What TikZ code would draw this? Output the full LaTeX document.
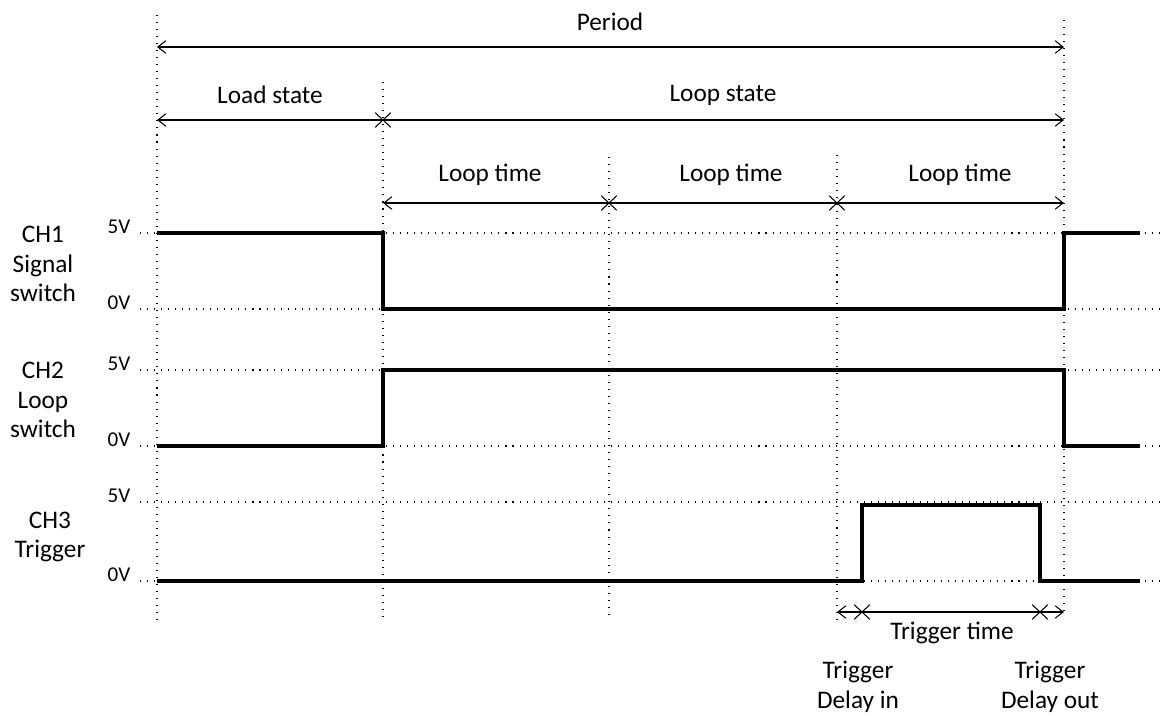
\documentclass[tikz,border=0pt]{standalone}
\usepackage{fontspec}
\setmainfont{Carlito}
\usetikzlibrary{arrows.meta,positioning,shapes.misc}

\begin{document}
\begin{tikzpicture}[x=0.02cm, y=-0.02cm, font=\fontsize{14.4}{17}\selectfont,
  >={Straight Barb[length=1.6mm,width=2.5mm]},
  grid/.style={line width=0.6pt, dash pattern=on 0.6pt off 3.4pt},
  span/.style={line width=0.6pt},
  cross/.style={draw, cross out, minimum width=2.9mm, minimum height=2.7mm, inner sep=0pt, line width=0.6pt},
  wave/.style={line width=1.8pt},
  volt/.style={font=\fontsize{12}{14}\selectfont},
  chan/.style={align=center}]
\useasboundingbox (0,0) rectangle (1164,716);

% dotted time markers
\draw[grid] (157,15) -- (157,620);
\draw[grid] (383,82) -- (383,620);
\draw[grid] (609,157) -- (609,620);
\draw[grid] (837,155) -- (837,625);
\draw[grid] (1064,20) -- (1064,615);

% dotted voltage levels
\foreach \lev in {233,309,370,446,502,581}
  \draw[grid] (140,\lev) -- (1162,\lev);

% channel names
\node[chan] (ch1) at (43,264) {CH1\\Signal\\switch};
\node[chan] (ch2) at (43,400) {CH2\\Loop\\switch};
\node[chan] (ch3) at (50,537) {CH3\\Trigger};

% voltage labels
\foreach \hi/\lo [count=\i] in {233/309,370/446,502/581} {
  \node[volt] (hi\i) at (119,\hi-6) {5V};
  \node[volt] (lo\i) at (119,\lo-6) {0V};
}

% waveforms
\draw[wave] (157,233) -- (383,233) -- (383,309) -- (1064,309) -- (1064,233) -- (1140,233);
\draw[wave] (157,446) -- (383,446) -- (383,370) -- (1064,370) -- (1064,446) -- (1140,446);
\draw[wave] (157,581) -- (862,581) -- (862,505) -- (1040,505) -- (1040,581) -- (1140,581);

% period
\coordinate (per0) at (157,47);
\coordinate (per1) at (1064,47);
\draw[span, <->] (per0) -- (per1);
\node (period) at (610,22) {Period};

% load / loop state
\coordinate (st0) at (157,120);
\node[cross] (stx) at (383,120) {};
\coordinate (st1) at (1064,120);
\draw[span, <-] (st0) -- (stx.center);
\draw[span, ->] (stx.center) -- (st1);
\node (load) at (270,95) {Load state};
\node (loop) at (723,95) {Loop state};

% loop times
\coordinate (lt0) at (383,203);
\node[cross] (ltx1) at (609,203) {};
\node[cross] (ltx2) at (837,203) {};
\coordinate (lt1) at (1064,203);
\draw[span, <-] (lt0) -- (ltx1.center);
\draw[span] (ltx1.center) -- (ltx2.center);
\draw[span, ->] (ltx2.center) -- (lt1);
\foreach \xpos/\nm in {490/lta,731/ltb,960/ltc}
  \node (\nm) at (\xpos,175) {Loop time};

% trigger time
\coordinate (tr0) at (837,612);
\node[cross] (trx1) at (862,612) {};
\node[cross] (trx2) at (1040,612) {};
\coordinate (tr1) at (1064,612);
\draw[span, <-] (tr0) -- (trx1.center);
\draw[span] (trx1.center) -- (trx2.center);
\draw[span, ->] (trx2.center) -- (tr1);
\node (trtime) at (952,633) {Trigger time};
\node[chan] (delin) at (858,687) {Trigger\\Delay in};
\node[chan] (delout) at (1050,687) {Trigger\\Delay out};
\end{tikzpicture}
\end{document}
